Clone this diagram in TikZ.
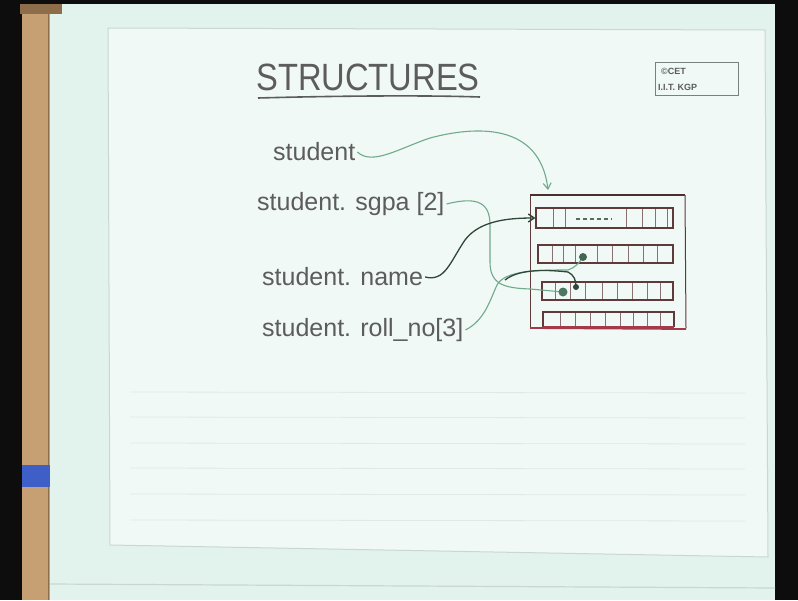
\documentclass[tikz,border=0pt]{standalone}
\usepackage{fontspec}
\setmainfont{Liberation Sans}
\usetikzlibrary{arrows.meta}
\definecolor{ink}{HTML}{5C5C5C}
\definecolor{paper}{HTML}{F0F9F6}
\definecolor{margin}{HTML}{E2F3EE}
\definecolor{wood}{HTML}{C6A072}
\definecolor{wooddark}{HTML}{8E6E4A}
\definecolor{band}{HTML}{3F5FC8}
\definecolor{frame}{HTML}{C9D6D2}
\definecolor{rule}{HTML}{DFEAE7}
\definecolor{pen}{HTML}{6FAA8C}
\definecolor{darkpen}{HTML}{2F4638}
\definecolor{boxline}{HTML}{5E3A3A}
\definecolor{boxred}{HTML}{A33A4A}
\definecolor{cellline}{HTML}{8A7070}
\tikzset{
  lbl/.style={anchor=west, inner sep=2pt, text=ink, font=\fontsize{25}{25}\selectfont},
  pencurve/.style={draw=pen, line width=1.1pt},
  darkcurve/.style={draw=darkpen, line width=1.3pt},
  rowbox/.style={draw=boxline, line width=1.2pt},
  cellsep/.style={draw=cellline, line width=0.7pt},
  tip/.style={-{Straight Barb[length=6pt,width=8pt]}},
  faintrule/.style={draw=rule, line width=0.8pt},
  stamptext/.style={anchor=west, text=ink, font=\fontsize{9}{9}\selectfont\bfseries, inner sep=0pt}
}
\begin{document}
\begin{tikzpicture}[x=1pt,y=-1pt]
\useasboundingbox (0,0) rectangle (798,600);
% surroundings, paper and ruler
\fill[black!95] (0,0) rectangle (798,600);
\fill[margin] (50,4) rectangle (775,600);
\fill[paper] (108,28) -- (765,30) -- (768,557) -- (110,545) -- cycle;
\draw[frame, line width=1pt] (108,28) -- (765,30) -- (768,557) -- (110,545) -- cycle;
\draw[frame, line width=1.2pt] (50,584) -- (775,588);
\foreach \yy in {392,417,443,468,494,520}
  \draw[faintrule] (130,\yy) -- (745,\yy+1);
\fill[wood] (22,12) rectangle (50,600);
\draw[wooddark, line width=0.8pt] (48,12) -- (48,600);
\fill[wooddark] (20,4) rectangle (62,14);
\fill[band] (22,465) rectangle (50,487);

% title
\node[text=ink, font=\fontsize{38}{38}\selectfont] (title) at (368,77) {\scalebox{0.86}[1]{STRUCTURES}};
\draw[ink, line width=1.6pt] (258,98) .. controls (330,96) and (420,95) .. (480,97);

% stamp
\node[draw=frame!60!black, line width=0.8pt, minimum width=83pt, minimum height=33pt] (stamp) at (696.5,78.5) {};
\node[stamptext] (stampa) at (661,71) {©CET};
\node[stamptext] (stampb) at (658,87) {I.I.T. KGP};

% labels
\node[lbl] (lblA) at (271,152) {student};
\node[lbl] (lblB) at (255,204) {student. sgpa [2]};
\node[lbl] (lblC) at (260,277) {student. name};
\node[lbl] (lblD) at (260,330) {student. roll\_no[3]};

% the structure in memory
\coordinate (boxtop) at (548,190);
\draw[boxline, line width=1pt] (530,328) -- (530,195);
\draw[boxline!80!black, line width=1.6pt] (530,195) -- (685,195);
\draw[boxline, line width=1pt] (685,195) -- (686,328);
\draw[boxred, line width=1.8pt] (530,328) -- (686,329);

% row 1
\node[rowbox, minimum width=137pt, minimum height=20pt, inner sep=0pt] (row1) at (604.5,218) {};
\foreach \xx in {553,565,626,642,655,667}
  \draw[cellsep] (\xx,209) -- (\xx,227);
\draw[darkpen!80, line width=1.4pt, dash pattern=on 4pt off 3pt] (576,219) -- (612,219);
% row 2
\node[rowbox, minimum width=135pt, minimum height=18pt, inner sep=0pt] (row2) at (605.5,254) {};
\foreach \xx in {552,563,575,597,612,628,643,657}
  \draw[cellsep] (\xx,246) -- (\xx,262);
% row 3
\node[rowbox, minimum width=131pt, minimum height=18pt, inner sep=0pt] (row3) at (607.5,291) {};
\foreach \xx in {555,570,585,602,617,632,647,660}
  \draw[cellsep] (\xx,283) -- (\xx,299);
% row 4
\draw[rowbox] (543,327) -- (543,312) -- (674,312) -- (674,327);
\foreach \xx in {560,575,590,605,620,633,647,660}
  \draw[cellsep] (\xx,313) -- (\xx,326);
\draw[boxred, line width=1.2pt] (543,327) -- (674,327);

% targets inside the rows
\coordinate (dotB) at (563,292);
\coordinate (dotD) at (583,257);
\coordinate (dotE) at (576,287);

% connectors
\draw[pencurve, tip] (lblA.east) .. controls (372,166) and (400,148) .. (430,138)
  .. controls (475,126) and (540,122) .. (boxtop);
\draw[pencurve] (lblB.east) .. controls (478,196) and (490,203) .. (490,225)
  -- (490,262) .. controls (490,285) and (505,288) .. (530,289) -- (dotB);
\draw[darkcurve, tip] (lblC.east) .. controls (445,282) and (450,262) .. (465,240)
  .. controls (480,220) and (510,218) .. (row1.west);
\draw[pencurve] (lblD.east) .. controls (485,320) and (490,300) .. (497,285)
  .. controls (505,270) and (540,270) .. (568,270) .. controls (575,268) and (580,262) .. (dotD);
\draw[darkcurve] (505,280) .. controls (520,268) and (550,270) .. (568,272)
  .. controls (574,275) and (576,280) .. (dotE);

\fill[pen!70!black] (dotB) circle (4.5pt);
\fill[pen!60!black] (dotD) circle (4pt);
\fill[darkpen] (dotE) circle (3pt);
\end{tikzpicture}
\end{document}
